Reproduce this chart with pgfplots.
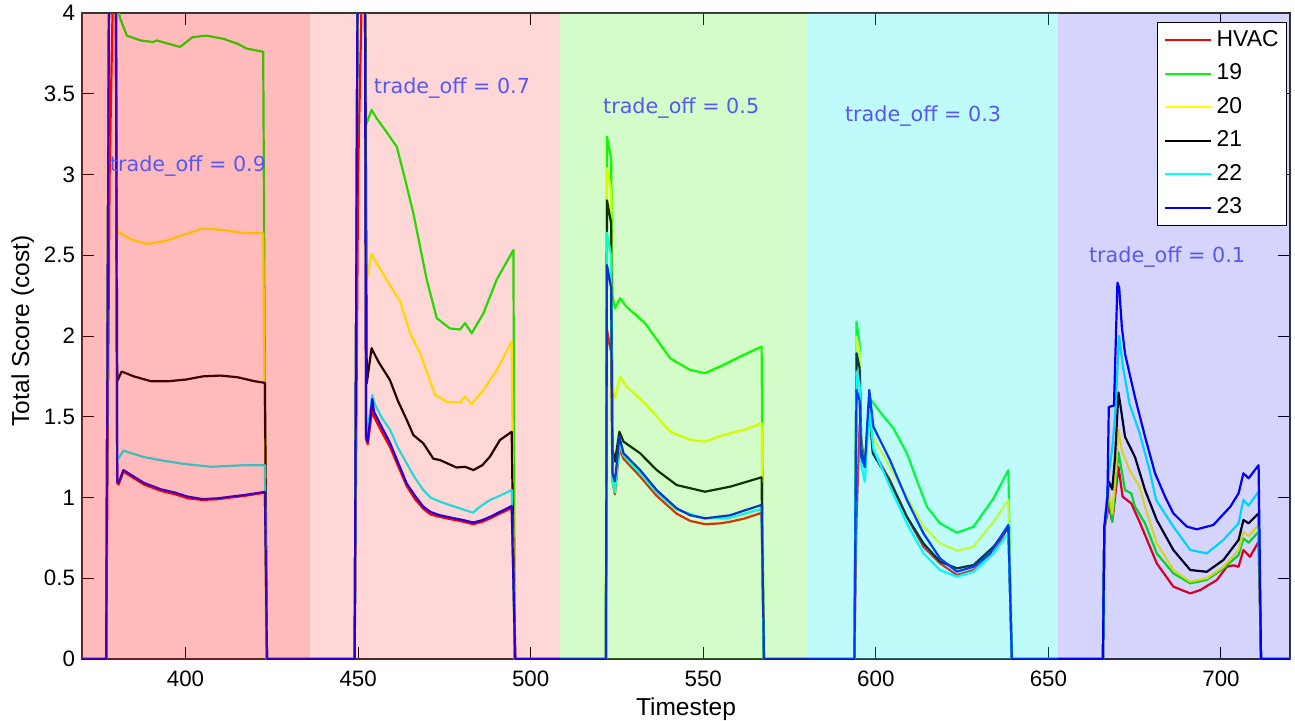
\documentclass[border=0pt]{standalone}
\usepackage{pgfplots}
\pgfplotsset{compat=1.18}
\usepackage{fontspec}
\setmainfont{Liberation Sans}
\newfontfamily\dejavu{DejaVu Sans}
\definecolor{cHVAC}{RGB}{255,0,0}
\definecolor{c19}{RGB}{0,255,0}
\definecolor{c20}{RGB}{255,255,0}
\definecolor{c21}{RGB}{0,0,0}
\definecolor{c22}{RGB}{0,255,255}
\definecolor{c23}{RGB}{0,0,255}
\definecolor{pRed}{RGB}{255,0,0}
\definecolor{pGreen}{RGB}{60,240,5}
\definecolor{pCyan}{RGB}{0,240,240}
\definecolor{pBlue}{RGB}{0,0,240}
\definecolor{lbl}{RGB}{88,88,240}
\begin{document}
\begin{tikzpicture}
\begin{axis}[
  width=604bp, height=323bp, scale only axis,
  xmin=370, xmax=720, ymin=0, ymax=4,
  xtick={400,450,...,700}, ytick={0,0.5,...,4},
  /pgf/number format/assume math mode=true,
  tick label style={font=\fontsize{11.2}{13}\selectfont},
  xticklabel style={yshift=-2.3bp},
  major tick length=6bp,
  major tick style={draw=black, line width=0.5bp},
  axis line style={draw=black!80, line width=0.6bp},
  xlabel={Timestep}, ylabel={Total Score (cost)},
  every axis x label/.style={at={(axis description cs:0.5,0)}, anchor=base, yshift=-28bp, font=\fontsize{12.3}{14}\selectfont},
  every axis y label/.style={at={(axis description cs:0,0.5)}, xshift=-26.5bp, yshift=2.5bp, rotate=90, anchor=base, font=\fontsize{12.3}{14}\selectfont},
  legend cell align=left,
  legend image code/.code={\draw[#1] (0bp,0bp) -- (23bp,0bp);},
  legend style={at={(1,1)}, anchor=north east, xshift=-1.5bp, yshift=-4.5bp,
    draw=black, fill=white, font=\fontsize{11.5}{13}\selectfont,
    inner xsep=3bp, inner ysep=2.4bp, row sep=3.75bp, column sep=1.5bp,
    nodes={inner sep=1bp, text height=8.5bp, text depth=2.5bp}},
  every axis plot/.append style={line width=1.1bp, line join=round},
]
% HVAC
\addplot[cHVAC] coordinates {
(370,0) (377,0) (378,3.0) (379.7,5) (380.2,1.09) (380.6,1.08) (382,1.16) (385,1.12) (388,1.08) (393,1.04) (397,1.02) (400.7,0.995) (405,0.985) (409.4,0.99) (413,1.0) (417,1.01) (420,1.02) (423,1.03) (423.6,0)
(449,0) (450,3.0) (451.9,5) (452.3,1.36) (452.8,1.33) (454.1,1.55) (454.6,1.50) (457,1.40) (459.3,1.31) (461.5,1.20) (464.1,1.07) (466.5,0.99) (468.9,0.93) (471,0.895) (473.7,0.88) (477,0.865) (480.5,0.85) (483.4,0.835) (486,0.85) (488.2,0.87) (491,0.90) (494.5,0.935) (495.6,0)
(521.8,0) (522.1,2.04) (523.3,1.9) (523.7,1.1) (524.4,1.02) (525.7,1.30) (526.9,1.24) (531.7,1.13) (536.5,1.01) (542.3,0.90) (546.2,0.855) (550.5,0.835) (555,0.84) (557.8,0.85) (562,0.87) (566.9,0.905) (567.6,0)
(593.8,0) (594.4,0.85) (595.3,1.45) (596.8,1.19) (598.1,1.55) (599.1,1.294) (604.1,1.108) (609,0.88) (613.8,0.695) (618.6,0.592) (623.5,0.52) (628.3,0.551) (634.1,0.654) (638.4,0.82) (639.4,0)
(665.8,0) (666.2,0.8) (667.5,0.95) (668.5,0.85) (669.3,1.0) (670.3,1.19) (671.5,1.005) (674,0.964) (676.6,0.84) (681.4,0.592) (686.2,0.448) (691.1,0.406) (694,0.427) (698.8,0.489) (701.7,0.571) (703.6,0.58) (705.1,0.571) (706.5,0.675) (708.4,0.633) (710.9,0.726) (711.6,0) (720,0)
};
\addlegendentry{HVAC}
% 19
\addplot[c19] coordinates {
(370,0) (377,0) (378,5) (379.7,5) (380.4,4.05) (381,3.97) (383,3.86) (387,3.83) (390.6,3.82) (391.7,3.83) (395,3.81) (398.4,3.79) (402,3.85) (406,3.86) (411,3.84) (415,3.81) (417.7,3.78) (422.5,3.76) (423.4,0)
(449,0) (450,5) (451.9,5) (452.3,3.307) (453.9,3.40) (455.4,3.347) (458,3.27) (461.2,3.172) (463.5,2.98) (466,2.76) (469.9,2.347) (472.8,2.11) (476.6,2.047) (479.5,2.04) (481,2.08) (482.9,2.017) (486.3,2.14) (490.1,2.347) (495,2.533) (495.4,0)
(521.8,0) (522.1,3.234) (523.3,3.1) (523.7,2.25) (524.4,2.171) (525.9,2.234) (527.8,2.18) (533.1,2.08) (536.5,1.98) (540.4,1.862) (546.2,1.79) (550.5,1.77) (555.8,1.82) (561.6,1.882) (566.9,1.934) (567.5,0)
(593.8,0) (594.4,2.089) (595.3,1.95) (595.8,1.3) (596.8,1.19) (598.1,1.62) (598.6,1.604) (601.2,1.531) (605.1,1.428) (609,1.274) (612,1.1) (614.8,0.943) (618.6,0.84) (623.5,0.782) (628.3,0.819) (634.1,0.995) (638.4,1.17) (639.4,0)
(665.8,0) (666.2,0.8) (667.5,1.0) (668.5,0.85) (669.3,1.05) (670.3,1.28) (672.2,1.046) (674,1.026) (675.1,0.943) (678,0.84) (681.4,0.654) (686.2,0.53) (691.1,0.469) (695.9,0.49) (700.7,0.561) (705.1,0.644) (706.5,0.747) (708,0.72) (710.9,0.788) (711.6,0) (720,0)
};
\addlegendentry{19}
% 20
\addplot[c20] coordinates {
(370,0) (377,0) (378,5) (379.7,5) (380.2,2.62) (380.5,2.645) (384,2.60) (388.7,2.57) (394.5,2.59) (400,2.63) (405,2.666) (410.9,2.656) (416,2.64) (422.5,2.635) (423.5,0)
(449,0) (450,5) (451.9,5) (452.5,2.347) (453.9,2.508) (455.4,2.45) (458.5,2.34) (462.2,2.213) (465.1,2.017) (468,1.893) (472.3,1.635) (475.7,1.593) (479.6,1.587) (481,1.624) (482.9,1.579) (486.3,1.666) (490.2,1.789) (494.5,1.965) (495.3,0)
(521.8,0) (522.1,3.04) (523.3,2.9) (523.7,1.7) (524.4,1.614) (525.9,1.748) (527.8,1.686) (533.1,1.583) (540.4,1.408) (546.2,1.356) (550.5,1.346) (555.8,1.387) (561.6,1.418) (566.9,1.459) (567.5,0)
(593.8,0) (594.4,1.996) (595.3,1.9) (595.8,1.3) (596.8,1.19) (598.1,1.6) (599.1,1.377) (604.1,1.19) (609,1.005) (613.8,0.819) (618.6,0.716) (623.5,0.671) (628.3,0.695) (634.1,0.85) (638.4,0.985) (639.4,0)
(665.8,0) (666.2,0.8) (667.5,1.05) (668.5,0.9) (669.3,1.1) (670.3,1.42) (671.3,1.29) (673.5,1.17) (676.4,1.067) (678,0.943) (681.4,0.716) (686.2,0.551) (691.1,0.479) (695.9,0.5) (700.7,0.571) (705.1,0.675) (706.5,0.788) (708,0.76) (710.9,0.83) (711.6,0) (720,0)
};
\addlegendentry{20}
% 21
\addplot[c21] coordinates {
(370,0) (377,0) (378,5) (379.7,5) (380.2,1.72) (381.5,1.78) (385,1.75) (390,1.72) (395,1.72) (400,1.73) (405,1.75) (410,1.755) (415,1.745) (420,1.72) (423,1.71) (423.6,0)
(449,0) (450,5) (451.9,5) (452.5,1.707) (453.9,1.924) (455.9,1.84) (459.2,1.728) (461.5,1.6) (464.1,1.48) (466,1.387) (468.9,1.335) (471.8,1.24) (473.7,1.232) (478.5,1.186) (481,1.19) (483.4,1.17) (486,1.2) (488.2,1.253) (491.1,1.356) (494.5,1.407) (495.4,0)
(521.8,0) (522.1,2.84) (523.3,2.7) (523.7,1.3) (524.4,1.222) (525.7,1.408) (526.9,1.346) (531.7,1.274) (536.5,1.17) (542.3,1.077) (550.5,1.036) (557.8,1.067) (566.9,1.125) (567.5,0)
(593.8,0) (594.4,1.893) (595.3,1.8) (595.8,1.3) (596.8,1.19) (598.1,1.58) (599.1,1.274) (604.1,1.098) (609,0.881) (613.8,0.716) (618.6,0.603) (623.5,0.561) (628.3,0.582) (634.1,0.695) (638.4,0.819) (639.4,0)
(665.8,0) (666.2,0.8) (667.5,1.1) (668.5,1.05) (669.3,1.25) (670.3,1.65) (670.8,1.58) (672.2,1.376) (675.1,1.25) (678,1.046) (681.4,0.86) (686.2,0.675) (691.1,0.551) (695.9,0.54) (700.7,0.613) (705.1,0.737) (706.5,0.861) (708,0.84) (710.9,0.902) (711.6,0) (720,0)
};
\addlegendentry{21}
% 22
\addplot[c22] coordinates {
(370,0) (377,0) (378,5) (379.7,5) (380.2,1.23) (382,1.29) (385,1.27) (388,1.25) (393,1.23) (398.9,1.21) (403,1.20) (407.6,1.19) (412,1.195) (417,1.20) (423,1.20) (423.6,0)
(449,0) (450,5) (451.9,5) (452.3,1.40) (452.8,1.42) (454.1,1.635) (455,1.57) (457,1.49) (459.3,1.418) (461.5,1.31) (464.1,1.21) (466.5,1.12) (468.9,1.046) (471,1.0) (473.7,0.974) (477,0.95) (480.5,0.925) (483.4,0.906) (484.5,0.93) (486.5,0.96) (488.2,0.985) (491,1.01) (494.5,1.046) (495.4,0)
(521.8,0) (522.1,2.64) (523.3,2.5) (523.7,1.1) (524.4,1.03) (525.7,1.33) (526.9,1.26) (531.7,1.15) (536.5,1.03) (542.3,0.925) (550.5,0.87) (557.8,0.875) (566.9,0.93) (567.5,0)
(593.8,0) (594.4,1.779) (595.3,1.7) (595.8,1.2) (596.8,1.098) (598.1,1.55) (599.3,1.3) (604.1,1.067) (609,0.84) (613.8,0.654) (618.6,0.551) (623.5,0.51) (628.3,0.541) (634.1,0.654) (638.4,0.778) (639.4,0)
(665.8,0) (666.2,0.8) (667.5,1.15) (668.5,1.3) (669.3,1.5) (670.5,2.0) (671.6,1.81) (673.5,1.58) (676.4,1.40) (679.3,1.17) (681.2,0.985) (686.2,0.82) (691.1,0.675) (695.9,0.654) (700.7,0.737) (705.1,0.84) (706.5,0.985) (708,0.95) (710.9,1.036) (711.6,0) (720,0)
};
\addlegendentry{22}
% 23
\addplot[c23] coordinates {
(370,0) (377,0) (378,5) (379.7,5) (380.2,1.10) (380.6,1.09) (382,1.17) (385,1.13) (388,1.09) (393,1.05) (397,1.03) (400.7,1.005) (405,0.99) (409.4,0.995) (413,1.005) (417,1.015) (420,1.025) (423,1.035) (423.6,0)
(449,0) (450,5) (451.9,5) (452.3,1.38) (452.8,1.345) (454.1,1.61) (454.6,1.53) (457,1.43) (459.3,1.335) (461.5,1.22) (464.1,1.086) (466.5,1.01) (468.9,0.943) (471,0.91) (473.7,0.89) (477,0.875) (480.5,0.86) (483.4,0.845) (486,0.86) (488.2,0.88) (491,0.91) (494.5,0.947) (495.5,0)
(521.8,0) (522.1,2.44) (523.3,2.3) (523.7,1.15) (524.4,1.10) (525.7,1.377) (526.9,1.274) (531.7,1.17) (536.5,1.046) (542.3,0.933) (546.2,0.89) (550.5,0.871) (557.8,0.89) (562,0.92) (566.9,0.954) (567.6,0)
(593.8,0) (594.4,1.666) (595.3,1.6) (595.8,1.25) (596.8,1.19) (598.1,1.666) (599.3,1.438) (604.1,1.232) (609,0.985) (613.8,0.778) (618.6,0.623) (623.5,0.541) (628.3,0.571) (633.1,0.654) (638.4,0.83) (639.4,0)
(665.8,0) (666.2,0.82) (667.1,1.0) (667.5,1.56) (669,1.57) (670,2.33) (670.5,2.30) (671.3,2.05) (672.2,1.89) (675.1,1.62) (678,1.376) (680.9,1.15) (683.8,1.005) (686.2,0.902) (690.1,0.82) (693,0.803) (697.8,0.83) (702.7,0.943) (705.1,1.026) (706.5,1.15) (708,1.119) (710.9,1.20) (711.6,0) (720,0)
};
\addlegendentry{23}
% shaded regimes (translucent, over the lines)
\addplot[forget plot, draw=none, fill=pRed, fill opacity=0.267] coordinates {(370,0) (436.2,0) (436.2,4) (370,4)} -- cycle;
\addplot[forget plot, draw=none, fill=pRed, fill opacity=0.157] coordinates {(436.2,0) (508.5,0) (508.5,4) (436.2,4)} -- cycle;
\addplot[forget plot, draw=none, fill=pGreen, fill opacity=0.22] coordinates {(508.5,0) (580.3,0) (580.3,4) (508.5,4)} -- cycle;
\addplot[forget plot, draw=none, fill=pCyan, fill opacity=0.25] coordinates {(580.3,0) (652.7,0) (652.7,4) (580.3,4)} -- cycle;
\addplot[forget plot, draw=none, fill=pBlue, fill opacity=0.17] coordinates {(652.7,0) (720,0) (720,4) (652.7,4)} -- cycle;
\node[font=\dejavu\fontsize{10.4}{12}\selectfont, text=lbl] at (axis cs:400.7,3.053) {trade\_off = 0.9};
\node[font=\dejavu\fontsize{10.4}{12}\selectfont, text=lbl] at (axis cs:477.2,3.536) {trade\_off = 0.7};
\node[font=\dejavu\fontsize{10.4}{12}\selectfont, text=lbl] at (axis cs:543.6,3.412) {trade\_off = 0.5};
\node[font=\dejavu\fontsize{10.4}{12}\selectfont, text=lbl] at (axis cs:613.7,3.362) {trade\_off = 0.3};
\node[font=\dejavu\fontsize{10.4}{12}\selectfont, text=lbl] at (axis cs:684.4,2.489) {trade\_off = 0.1};
\end{axis}
\pgfresetboundingbox
\useasboundingbox ([shift={(-41bp,-31bp)}]current axis.south west) rectangle ([shift={(2.5bp,6.5bp)}]current axis.north east);
\end{tikzpicture}
\end{document}
